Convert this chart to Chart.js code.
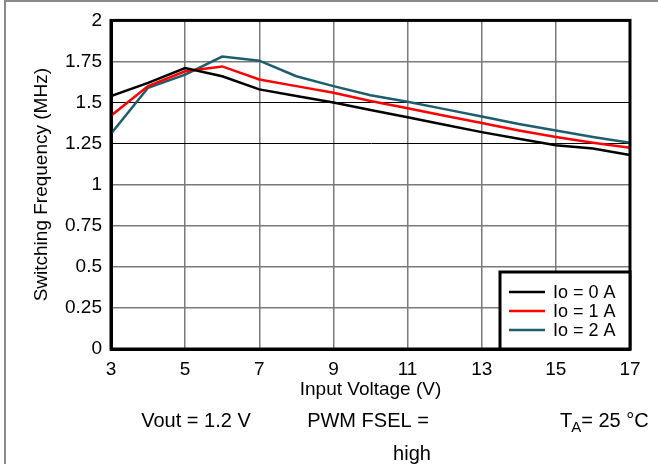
<!DOCTYPE html>
<html>
<head>
<meta charset="utf-8">
<script src="https://cdn.jsdelivr.net/npm/chart.js@4.4.1/dist/chart.umd.min.js"></script>
<style>
  html, body { margin: 0; padding: 0; background: #fff; }
  #wrap { width: 658px; height: 464px; }
</style>
</head>
<body>
<div id="wrap"><canvas id="myChart" width="658" height="464"></canvas></div>
<script>
// input voltage (V)
const input_voltage = [3, 4, 5, 6, 7, 8, 9, 10, 11, 12, 13, 14, 15, 16, 17];
// switching frequency (MHz) per load current
const freq_io0 = [1.54, 1.62, 1.71, 1.66, 1.58, 1.54, 1.50, 1.455, 1.41, 1.365, 1.32, 1.28, 1.24, 1.22, 1.18];
const freq_io1 = [1.42, 1.60, 1.69, 1.72, 1.64, 1.60, 1.56, 1.51, 1.465, 1.42, 1.375, 1.33, 1.29, 1.255, 1.225];
const freq_io2 = [1.31, 1.59, 1.67, 1.78, 1.755, 1.66, 1.60, 1.545, 1.505, 1.46, 1.415, 1.37, 1.33, 1.29, 1.255];
const series_labels = ['Io = 0 A', 'Io = 1 A', 'Io = 2 A'];
const y_ticks = ['0', '0.25', '0.5', '0.75', '1', '1.25', '1.5', '1.75', '2'];

const toPoints = (vals) => vals.map((v, i) => ({ x: input_voltage[i], y: v }));

const fontName = '"Liberation Sans", Arial, sans-serif';

// gray border round the figure, frame round the plot, legend box and notes
const decor = {
    id: 'decor',
    beforeDraw(chart) {
        const c = chart.ctx;
        c.save();
        c.strokeStyle = '#8a8a8a';
        c.lineWidth = 2;
        c.beginPath();
        c.moveTo(5, 464);
        c.lineTo(5, 1);
        c.lineTo(658, 1);
        c.stroke();
        c.restore();
    },
    afterDraw(chart) {
        const c = chart.ctx;
        const a = chart.chartArea;
        c.save();
        c.strokeStyle = '#000';
        c.lineWidth = 3;
        c.strokeRect(a.left, a.top, a.right - a.left, a.bottom - a.top);

        // legend
        const bw = 130, bh = 77;
        const bx = a.right - bw, by = a.bottom - bh;
        c.fillStyle = '#fff';
        c.fillRect(bx, by, bw, bh);
        c.strokeRect(bx, by, bw, bh);
        c.font = '18px ' + fontName;
        c.textBaseline = 'middle';
        c.textAlign = 'left';
        chart.data.datasets.forEach((ds, i) => {
            const yy = by + 20 + i * 19;
            c.strokeStyle = ds.borderColor;
            c.lineWidth = 2.5;
            c.beginPath();
            c.moveTo(bx + 9, yy);
            c.lineTo(bx + 45, yy);
            c.stroke();
            c.fillStyle = '#000';
            c.fillText(ds.label, bx + 53, yy + 1);
        });

        // notes below the chart
        c.fillStyle = '#000';
        c.font = '20px ' + fontName;
        c.textAlign = 'center';
        c.fillText('Vout = 1.2 V', 196, 421);
        c.fillText('PWM FSEL =', 368, 421);
        c.fillText('high', 412, 454);
        c.textAlign = 'left';
        let x0 = 560;
        c.fillText('T', x0, 421);
        x0 += c.measureText('T').width - 1;
        c.font = '15px ' + fontName;
        c.fillText('A', x0, 428);
        x0 += c.measureText('A').width;
        c.font = '20px ' + fontName;
        c.fillText('= 25 °C', x0, 421);
        c.restore();
    }
};

const ctx = document.getElementById('myChart');

new Chart(ctx,
{
    type: 'line',
    data:
    {
        datasets:
        [
            {
                label: series_labels[0],
                data: toPoints(freq_io0),
                borderColor: '#000000',
                backgroundColor: '#000000',
                borderWidth: 2.5,
                pointRadius: 0,
                tension: 0
            },
            {
                label: series_labels[1],
                data: toPoints(freq_io1),
                borderColor: '#ff0000',
                backgroundColor: '#ff0000',
                borderWidth: 2.5,
                pointRadius: 0,
                tension: 0
            },
            {
                label: series_labels[2],
                data: toPoints(freq_io2),
                borderColor: '#1d5d6c',
                backgroundColor: '#1d5d6c',
                borderWidth: 2.5,
                pointRadius: 0,
                tension: 0
            }
        ]
    },
    options:
    {
        responsive: false,
        animation: false,
        layout: { padding: { left: 0, top: 20, right: 28, bottom: 0 } },
        scales:
        {
            x:
            {
                type: 'linear',
                min: 3,
                max: 17,
                afterFit: (s) => { s.height = 115; },
                ticks: { stepSize: 2, color: '#000', padding: 9, font: { family: fontName, size: 19 } },
                grid: { color: '#7a7a7a', lineWidth: 1.5, drawTicks: false },
                border: { color: '#000', width: 3 },
                title:
                {
                    display: true,
                    text: 'Input Voltage (V)',
                    color: '#000',
                    font: { family: fontName, size: 19 },
                    padding: { top: 0, bottom: 63 }
                }
            },
            y:
            {
                min: 0,
                max: 2,
                afterFit: (s) => { s.width = 111; },
                ticks:
                {
                    stepSize: 0.25,
                    color: '#000',
                    padding: 9,
                    font: { family: fontName, size: 19 },
                    callback: (v) => y_ticks[Math.round(v / 0.25)]
                },
                grid:
                {
                    drawTicks: false,
                    color: (c) => (c.tick && (c.tick.value === 1.25 || c.tick.value === 1.5)) ? '#000' : '#7a7a7a',
                    lineWidth: (c) => (c.tick && (c.tick.value === 1.25 || c.tick.value === 1.5)) ? 1 : 1.5
                },
                border: { color: '#000', width: 3 },
                title:
                {
                    display: true,
                    text: 'Switching Frequency (MHz)',
                    color: '#000',
                    font: { family: fontName, size: 19 },
                    padding: { top: 30, bottom: 0 }
                }
            }
        },
        plugins:
        {
            legend: { display: false },
            tooltip: { enabled: false }
        }
    },
    plugins: [decor]
});
</script>
</body>
</html>
